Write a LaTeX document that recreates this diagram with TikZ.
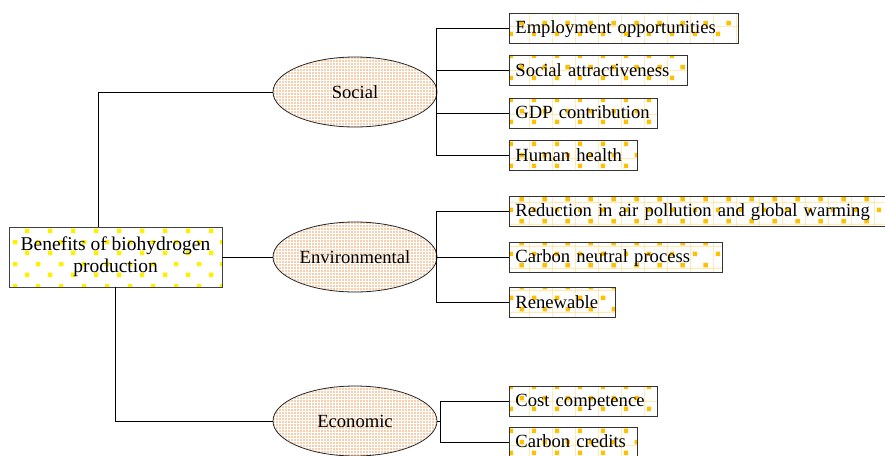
\documentclass[tikz,border=0pt]{standalone}
\usepackage{fontspec}
\setmainfont{Liberation Serif}
\usetikzlibrary{shapes.geometric,patterns}
\definecolor{dotorange}{RGB}{240,140,60}
\definecolor{gridorange}{RGB}{255,222,140}
\definecolor{sqorange}{RGB}{255,192,0}
\definecolor{sqyellow}{RGB}{255,240,0}
% square dots for the root box
\pgfdeclarepatterninherentlycolored{rootsq}{\pgfpointorigin}{\pgfqpoint{23pt}{22pt}}{\pgfqpoint{23pt}{22pt}}{%
 \pgfsetfillcolor{sqyellow}%
 \pgfpathrectangle{\pgfqpoint{2pt}{2pt}}{\pgfqpoint{4.5pt}{4.5pt}}%
 \pgfpathrectangle{\pgfqpoint{13.5pt}{13pt}}{\pgfqpoint{4.5pt}{4.5pt}}%
 \pgfusepath{fill}}
% fine dots for the ellipses
\pgfdeclarepatterninherentlycolored{finedots}{\pgfpointorigin}{\pgfqpoint{3pt}{3pt}}{\pgfqpoint{3pt}{3pt}}{%
 \pgfsetfillcolor{dotorange}%
 \pgfpathrectangle{\pgfqpoint{0.5pt}{0.5pt}}{\pgfqpoint{1.8pt}{1.8pt}}%
 \pgfusepath{fill}}
% grid with squares for the leaf boxes
\pgfdeclarepatterninherentlycolored{leafgrid}{\pgfpointorigin}{\pgfqpoint{23pt}{22pt}}{\pgfqpoint{23pt}{22pt}}{%
 \pgfsetstrokecolor{gridorange}\pgfsetlinewidth{0.6pt}%
 \pgfpathmoveto{\pgfqpoint{0.3pt}{0pt}}\pgfpathlineto{\pgfqpoint{0.3pt}{22pt}}%
 \pgfpathmoveto{\pgfqpoint{0pt}{11pt}}\pgfpathlineto{\pgfqpoint{23pt}{11pt}}%
 \pgfusepath{stroke}%
 \pgfsetfillcolor{sqorange}%
 \pgfpathrectangle{\pgfqpoint{3pt}{1pt}}{\pgfqpoint{4.5pt}{4.5pt}}%
 \pgfpathrectangle{\pgfqpoint{14pt}{12pt}}{\pgfqpoint{4.5pt}{4.5pt}}%
 \pgfusepath{fill}}
\tikzset{
 rootbox/.style={draw=black!75,line width=0.8pt,pattern=rootsq,minimum width=213pt,minimum height=60pt,align=center,inner sep=0pt,font=\fontsize{19.5pt}{22pt}\selectfont},
 catell/.style={ellipse,draw=black!85,line width=0.8pt,pattern=finedots,minimum width=164pt,minimum height=70pt,inner sep=0pt},
 leaf/.style={anchor=west,draw=black!80,line width=0.8pt,pattern=leafgrid,text width=#1pt,inner xsep=6pt,inner ysep=0pt,minimum height=30pt,text height=15pt,text depth=4pt,align=left},
 link/.style={line width=0.7pt}
}
\begin{document}
\begin{tikzpicture}[x=1pt,y=-1pt,font=\fontsize{18.6pt}{22pt}\selectfont]
\useasboundingbox(0,0)rectangle(885,455);
\node[rootbox](root)at(115.5,257){Benefits of biohydrogen\\production};
\node[catell](soc)at(355,92){Social};
\node[catell](env)at(355,257){Environmental};
\node[catell](eco)at(355,421){Economic};
% social
\node[leaf=217](s1)at(509,28){Employment opportunities};
\node[leaf=166](s2)at(509,70.5){Social attractiveness};
\node[leaf=136](s3)at(509,113){GDP contribution};
\node[leaf=116](s4)at(509,155.5){Human health};
% environmental
\node[leaf=364](e1)at(509,211){Reduction in air pollution and global warming};
\node[leaf=201](e2)at(509,257){Carbon neutral process};
\node[leaf=94](e3)at(509,302.5){Renewable};
% economic
\node[leaf=136](c1)at(509,401){Cost competence};
\node[leaf=116](c2)at(509,442){Carbon credits};
\coordinate(sj)at(436,0);\coordinate(cj)at(440,0);
\draw[link]([xshift=-17.5pt]root.north)|-(soc.west);
\draw[link](root.east)--(env.west);
\draw[link](root.south)|-(eco.west);
\draw[link](s1.west)--(s1.west-|sj)--(s4.west-|sj)--(s4.west);
\foreach\l in{s2,s3}\draw[link](\l.west)--(\l.west-|sj);
\draw[link](e1.west)--(e1.west-|sj)--(e3.west-|sj)--(e3.west);
\draw[link](env.east)--(e2.west);
\draw[link](c1.west)--(c1.west-|cj)--(c2.west-|cj)--(c2.west);
\draw[link](eco.east)--(eco.east-|cj);
\end{tikzpicture}
\end{document}
